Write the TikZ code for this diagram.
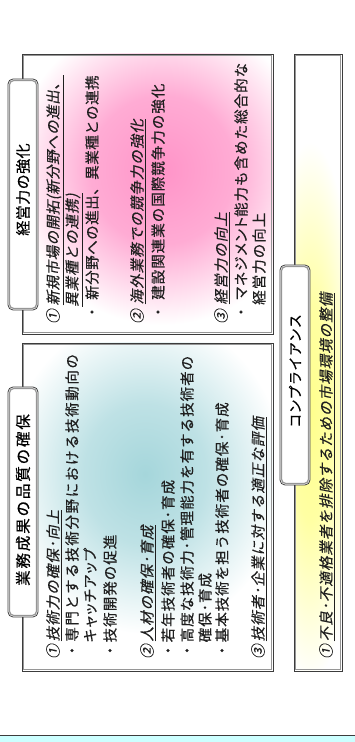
\documentclass[tikz,border=0pt]{standalone}
\usepackage{fontspec}
\newfontfamily\jp[LetterSpace=7,FakeBold=0.4]{Noto Sans CJK JP}
\newfontfamily\jpi[LetterSpace=7,FakeSlant=0.2,FakeBold=0.4]{Noto Sans CJK JP}
\newfontfamily\jpn[LetterSpace=3.5,FakeBold=0.4]{Noto Sans CJK JP}
\newfontfamily\jpin[LetterSpace=3.5,FakeSlant=0.2,FakeBold=0.4]{Noto Sans CJK JP}
\newfontfamily\jpw[LetterSpace=11,FakeBold=0.4]{Noto Sans CJK JP}
\newfontfamily\jpk[LetterSpace=7,FakeBold=0.4,RawFeature=+palt]{Noto Sans CJK JP}
\newfontfamily\jpA[LetterSpace=12,FakeBold=0.5]{Noto Sans CJK JP}
\newfontfamily\jpB[LetterSpace=3,FakeBold=0.5]{Noto Sans CJK JP}
\definecolor{tealc}{RGB}{165,214,219}
\definecolor{pinkc}{RGB}{255,148,200}
\definecolor{yelc}{RGB}{255,255,140}
\definecolor{cyanc}{RGB}{204,255,255}
\definecolor{framec}{RGB}{60,60,60}
\definecolor{shadowc}{RGB}{150,150,150}
% pgf maps the central 50bp square of a shading onto the path: radius 25bp = path edge
\pgfdeclareradialshading{tealsh}{\pgfpoint{0bp}{0bp}}{color(0bp)=(tealc); color(11bp)=(tealc!72!white); color(25bp)=(white); color(50bp)=(white)}
\pgfdeclareradialshading{pinksh}{\pgfpoint{0bp}{0bp}}{color(0bp)=(pinkc); color(12bp)=(pinkc!78!white); color(25bp)=(white); color(50bp)=(white)}
\pgfdeclareradialshading{yelsh}{\pgfpoint{0bp}{0bp}}{color(0bp)=(yelc); color(10bp)=(yelc!80!white); color(25bp)=(white); color(50bp)=(white)}
\tikzset{
  body/.style={inner sep=0pt, anchor=base west, text=black!88, font=\jp\fontsize{14.5}{14.5}\selectfont},
  ital/.style={body, font=\jpi\fontsize{14.5}{14.5}\selectfont},
  outerframe/.style={draw=framec, line width=0.8pt},
  innerframe/.style={draw=shadowc, line width=1.3pt},
  tabbox/.style={draw=framec, fill=white, line width=0.8pt, rounded corners=5pt, inner sep=0pt},
  tabshadow/.style={draw=shadowc, line width=1.2pt, rounded corners=4pt},
}
\begin{document}
\begin{tikzpicture}[x=1pt,y=1pt]
\useasboundingbox (0,0) rectangle (354,742);
\fill[white] (0,0) rectangle (354,742);
\begin{scope}[rotate=90, transform shape]
% bottom cyan band
\draw[fill=cyanc, draw=framec, line width=0.8pt] (-10,5) rectangle (7,-360);
% ---------- left panel ----------
\begin{scope}
  \clip (71,-22) rectangle (399,-273);
  \fill[white] (71,-22) rectangle (399,-273);
  \shade[shading=tealsh] (268,-145) ellipse (160 and 140);
\end{scope}
\draw[innerframe] (72.8,-23.8) rectangle (397.2,-271.2);
\draw[outerframe] (71,-22) rectangle (399,-273);
% ---------- right panel ----------
\begin{scope}
  \clip (408,-22) rectangle (688,-273);
  \fill[white] (408,-22) rectangle (688,-273);
  \shade[shading=pinksh] (572,-162) ellipse (155 and 150);
\end{scope}
\draw[innerframe] (409.8,-23.8) rectangle (686.2,-271.2);
\draw[outerframe] (408,-22) rectangle (688,-273);
% ---------- compliance panel ----------
\begin{scope}
  \clip (71,-294) rectangle (688,-342);
  \fill[white] (71,-294) rectangle (688,-342);
  \shade[shading=yelsh] (330,-310) ellipse (270 and 50);
\end{scope}
\draw[innerframe] (72.8,-295.8) rectangle (686.2,-340.2);
\draw[outerframe] (71,-294) rectangle (688,-342);
% ---------- tabs ----------
\node[tabbox, minimum width=230pt, minimum height=30pt] (tabL) at (240,-23) {};
\draw[tabshadow] ([shift={(2,-2)}]tabL.north west) rectangle ([shift={(-2,2)}]tabL.south east);
\node[font=\jpA\fontsize{15.5}{15.5}\selectfont, text=black, inner sep=0pt] (ttlL) at ([xshift=2pt]tabL.center) {業務成果の品質の確保};
\node[tabbox, minimum width=231pt, minimum height=30pt] (tabR) at (547.5,-23) {};
\draw[tabshadow] ([shift={(2,-2)}]tabR.north west) rectangle ([shift={(-2,2)}]tabR.south east);
\node[font=\jpB\fontsize{15}{15}\selectfont, text=black, inner sep=0pt] (ttlR) at ([xshift=5pt]tabR.center) {経営力の強化};
\node[tabbox, minimum width=220pt, minimum height=30pt] (tabC) at (367,-295) {};
\draw[tabshadow] ([shift={(2,-2)}]tabC.north west) rectangle ([shift={(-2,2)}]tabC.south east);
\node[font=\jpB\fontsize{14}{14}\selectfont, text=black, inner sep=0pt] (ttlC) at ([xshift=4pt]tabC.center) {コンプライアンス};
% ---------- left panel text ----------
\node[ital] (l1) at (83,-58.5) {①\hspace{3pt}\underline{技術力の確保･向上}};
\node[body, font=\jpw\fontsize{14.5}{14.5}\selectfont] (l2) at (84,-77.5) {・専門とする技術分野における技術動向の};
\node[body] (l3) at (99.5,-95.5) {{\jpk キャッチアップ}};
\node[body] (l4) at (84,-115.5) {・技術開発の促進};
\node[ital] (l5) at (83,-152.5) {②\hspace{3pt}\underline{人材の確保･育成}};
\node[body] (l6) at (84,-173.5) {・若年技術者の確保･育成};
\node[body] (l7) at (84,-192.5) {・高度な技術力･管理能力を有する技術者の};
\node[body] (l8) at (99.5,-210.5) {確保･育成};
\node[body] (l9) at (84,-227.5) {・基本技術を担う技術者の確保･育成};
\node[ital] (l10) at (83,-263.5) {③\hspace{3pt}\underline{技術者･企業に対する適正な評価}};
% ---------- right panel text ----------
\node[ital] (r1) at (418,-58.5) {①\hspace{4pt}{\jpin\underline{新規市場の開拓(新分野への進出、}}};
\node[ital] (r2) at (435,-77.5) {\underline{異業種との連携)}};
\node[body] (r3) at (422.5,-97.5) {・\hspace{5pt}{\jpn 新分野への進出、異業種との連携}};
\node[ital] (r4) at (418,-142.5) {②\hspace{5pt}\underline{海外業務での競争力の強化}};
\node[body] (r5) at (422.5,-163.5) {・\hspace{5pt}建設関連業の国際競争力の強化};
\node[ital] (r6) at (418,-226.5) {③\hspace{5pt}\underline{経営力の向上}};
\node[body] (r7) at (422.5,-246.5) {・\hspace{5pt}{\jpk マネジメント}能力も含めた総合的な};
\node[body] (r8) at (437,-264.5) {経営力の向上};
% ---------- compliance text ----------
\node[ital] (c1) at (83,-331.5) {①\hspace{3pt}\underline{不良･不適格業者を排除するための市場環境の整備}};
\end{scope}
\end{tikzpicture}
\end{document}
